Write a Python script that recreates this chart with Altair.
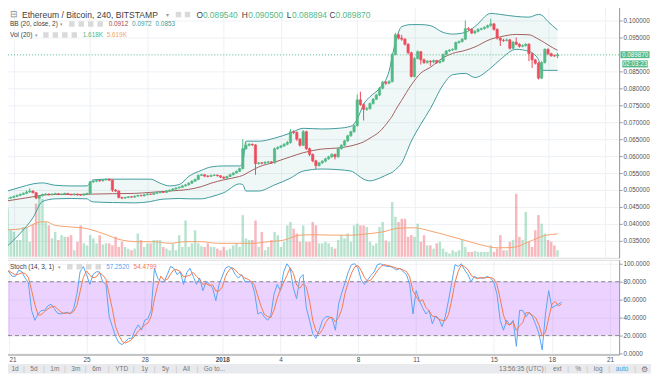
import altair as alt
import pandas as pd

# ---------------- data (ETH/BTC, 240 min candles, BITSTAMP) ----------------
FIRST_OPEN = 0.0474
CLOSE = [
    0.0476, 0.0478, 0.0481, 0.0484, 0.0487, 0.0490, 0.0494, 0.0497, 0.0492, 0.0476,
    0.0483, 0.0487, 0.0488, 0.0486, 0.0488, 0.0489, 0.0487, 0.0488, 0.0490, 0.0487,
    0.0486, 0.0488, 0.0486, 0.0485, 0.0488, 0.0490, 0.0524, 0.0526, 0.0528, 0.0527,
    0.0530, 0.0532, 0.0529, 0.0500, 0.0497, 0.0478, 0.0476, 0.0478, 0.0480, 0.0479,
    0.0482, 0.0484, 0.0483, 0.0486, 0.0488, 0.0487, 0.0490, 0.0492, 0.0494, 0.0493,
    0.0497, 0.0499, 0.0503, 0.0506, 0.0508, 0.0512, 0.0515, 0.0520, 0.0526, 0.0531,
    0.0543, 0.0545, 0.0541, 0.0540, 0.0543, 0.0544, 0.0542, 0.0538, 0.0535, 0.0540,
    0.0545, 0.0550, 0.0555, 0.0563, 0.0622, 0.0632, 0.0635, 0.0633, 0.0578, 0.0580,
    0.0579, 0.0582, 0.0583, 0.0580, 0.0622, 0.0626, 0.0630, 0.0635, 0.0640, 0.0672,
    0.0670, 0.0650, 0.0632, 0.0672, 0.0622, 0.0605, 0.0586, 0.0572, 0.0580, 0.0585,
    0.0592, 0.0598, 0.0605, 0.0598, 0.0622, 0.0632, 0.0645, 0.0660, 0.0672, 0.0690,
    0.0766, 0.0752, 0.0738, 0.0740, 0.0755, 0.0768, 0.0780, 0.0800, 0.0818, 0.0815,
    0.0820, 0.0900, 0.0958, 0.0948, 0.0945, 0.0930, 0.0905, 0.0835, 0.0888, 0.0908,
    0.0884, 0.0876, 0.0880, 0.0878, 0.0882, 0.0876, 0.0880, 0.0900, 0.0910, 0.0913,
    0.0915, 0.0935, 0.0938, 0.0945, 0.0976, 0.0974, 0.0963, 0.0968, 0.0974, 0.0976,
    0.0980, 0.0985, 0.0990, 0.0974, 0.0948, 0.0942, 0.0941, 0.0943, 0.0918, 0.0936,
    0.0930, 0.0924, 0.0926, 0.0930, 0.0902, 0.0884, 0.0874, 0.0830, 0.0876, 0.0915,
    0.0902, 0.0896, 0.08954, 0.08987,
]
HIGH = [
    0.0479, 0.0481, 0.0484, 0.0487, 0.0490, 0.0493, 0.0499, 0.0505, 0.0499, 0.0494,
    0.0485, 0.0489, 0.0491, 0.0490, 0.0490, 0.0492, 0.0491, 0.0490, 0.0492, 0.0491,
    0.0489, 0.0490, 0.0489, 0.0488, 0.0490, 0.0492, 0.0527, 0.0529, 0.0531, 0.0530,
    0.0533, 0.0535, 0.0534, 0.0531, 0.0503, 0.0499, 0.0480, 0.0480, 0.0482, 0.0482,
    0.0484, 0.0486, 0.0486, 0.0488, 0.0491, 0.0490, 0.0494, 0.0495, 0.0497, 0.0496,
    0.0500, 0.0502, 0.0506, 0.0509, 0.0511, 0.0515, 0.0518, 0.0523, 0.0529, 0.0534,
    0.0546, 0.0548, 0.0547, 0.0544, 0.0546, 0.0547, 0.0546, 0.0544, 0.0540, 0.0542,
    0.0548, 0.0553, 0.0558, 0.0566, 0.0650, 0.0640, 0.0638, 0.0637, 0.0635, 0.0583,
    0.0583, 0.0585, 0.0586, 0.0585, 0.0625, 0.0629, 0.0633, 0.0638, 0.0645, 0.0680,
    0.0676, 0.0673, 0.0653, 0.0677, 0.0675, 0.0625, 0.0608, 0.0589, 0.0583, 0.0588,
    0.0595, 0.0601, 0.0608, 0.0607, 0.0625, 0.0635, 0.0648, 0.0663, 0.0675, 0.0693,
    0.0782, 0.0790, 0.0756, 0.0745, 0.0758, 0.0771, 0.0784, 0.0804, 0.0822, 0.0822,
    0.0824, 0.0904, 0.0964, 0.0962, 0.0958, 0.0948, 0.0933, 0.0908, 0.0892, 0.0912,
    0.0910, 0.0888, 0.0884, 0.0883, 0.0885, 0.0884, 0.0883, 0.0903, 0.0913, 0.0916,
    0.0918, 0.0938, 0.0941, 0.0948, 0.1000, 0.0980, 0.0977, 0.0972, 0.0977, 0.0979,
    0.0983, 0.0988, 0.1005, 0.0993, 0.0977, 0.0951, 0.0946, 0.0947, 0.0946, 0.0940,
    0.0950, 0.0933, 0.0930, 0.0933, 0.0933, 0.0905, 0.0887, 0.0877, 0.0880, 0.0918,
    0.0918, 0.0905, 0.0900, 0.0905,
]
LOW = [
    0.0472, 0.0474, 0.0476, 0.0479, 0.0482, 0.0485, 0.0488, 0.0492, 0.0490, 0.0473,
    0.0474, 0.0481, 0.0485, 0.0484, 0.0484, 0.0486, 0.0485, 0.0485, 0.0486, 0.0485,
    0.0484, 0.0484, 0.0483, 0.0483, 0.0483, 0.0486, 0.0488, 0.0521, 0.0523, 0.0524,
    0.0525, 0.0528, 0.0527, 0.0494, 0.0494, 0.0475, 0.0473, 0.0474, 0.0476, 0.0477,
    0.0477, 0.0480, 0.0481, 0.0481, 0.0484, 0.0485, 0.0485, 0.0488, 0.0490, 0.0491,
    0.0491, 0.0495, 0.0497, 0.0501, 0.0504, 0.0506, 0.0510, 0.0513, 0.0518, 0.0524,
    0.0529, 0.0541, 0.0538, 0.0537, 0.0538, 0.0541, 0.0540, 0.0535, 0.0532, 0.0533,
    0.0538, 0.0543, 0.0548, 0.0553, 0.0561, 0.0618, 0.0629, 0.0630, 0.0545, 0.0575,
    0.0576, 0.0577, 0.0579, 0.0577, 0.0578, 0.0619, 0.0623, 0.0627, 0.0632, 0.0637,
    0.0665, 0.0645, 0.0628, 0.0630, 0.0618, 0.0600, 0.0582, 0.0562, 0.0569, 0.0577,
    0.0582, 0.0589, 0.0595, 0.0590, 0.0595, 0.0619, 0.0629, 0.0642, 0.0657, 0.0669,
    0.0687, 0.0748, 0.0705, 0.0733, 0.0737, 0.0752, 0.0765, 0.0777, 0.0797, 0.0810,
    0.0812, 0.0817, 0.0897, 0.0944, 0.0940, 0.0926, 0.0900, 0.0832, 0.0832, 0.0885,
    0.0870, 0.0872, 0.0873, 0.0866, 0.0874, 0.0872, 0.0873, 0.0877, 0.0897, 0.0907,
    0.0910, 0.0912, 0.0932, 0.0935, 0.0942, 0.0970, 0.0960, 0.0960, 0.0965, 0.0971,
    0.0973, 0.0977, 0.0982, 0.0970, 0.0944, 0.0925, 0.0937, 0.0938, 0.0914, 0.0915,
    0.0927, 0.0920, 0.0921, 0.0923, 0.0880, 0.0860, 0.0870, 0.0826, 0.0827, 0.0873,
    0.0898, 0.0893, 0.0893, 0.08889,
]
VOLUME_K = [
    11.8, 6.5, 6.1, 4.1, 4.1, 7.3, 7.3, 3.7, 8.1, 13.0,
    14.6, 14.2, 8.5, 7.7, 4.5, 6.1, 4.1, 5.3, 4.9, 4.9,
    5.3, 1.6, 3.7, 7.7, 3.3, 2.8, 5.3, 4.5, 3.3, 5.3,
    3.0, 3.3, 3.3, 2.8, 4.9, 2.4, 3.7, 2.4, 2.0, 1.6,
    2.0, 5.7, 4.1, 2.4, 3.3, 3.3, 4.1, 4.1, 4.1, 2.4,
    2.0, 1.6, 3.3, 1.6, 5.3, 2.4, 8.9, 2.4, 3.3, 6.5,
    3.3, 2.6, 2.4, 3.3, 2.4, 2.4, 2.0, 1.6, 2.4, 1.6,
    2.0, 2.8, 3.3, 2.4, 10.2, 4.5, 4.1, 4.1, 8.9, 2.4,
    6.1, 1.6, 2.4, 4.1, 6.1, 5.3, 2.4, 3.7, 7.7, 8.5,
    6.9, 5.7, 3.7, 7.7, 3.7, 3.7, 8.5, 7.7, 3.3, 3.3,
    3.7, 3.3, 2.4, 2.0, 4.1, 5.3, 4.5, 5.7, 3.7, 7.7,
    8.1, 7.7, 7.7, 7.3, 3.7, 2.8, 3.3, 7.3, 8.5, 4.0,
    3.7, 13.4, 9.8, 8.5, 9.3, 9.3, 4.9, 5.3, 4.9, 8.1,
    3.7, 5.3, 2.8, 2.8, 2.0, 3.3, 3.7, 2.0, 1.2, 0.8,
    1.6, 1.2, 1.6, 4.1, 2.4, 1.2, 1.2, 1.4, 1.2, 1.2,
    1.2, 1.2, 2.8, 1.2, 2.0, 5.3, 1.6, 1.6, 3.7, 4.1,
    15.4, 4.9, 4.1, 11.0, 3.7, 2.4, 6.5, 10.2, 8.1, 5.7,
    4.1, 3.7, 2.8, 1.618,
]
STOCH_K = [
    93, 92, 91, 86, 86, 93, 91, 84, 79, 48,
    37, 44, 48, 48, 53, 55, 50, 45, 44, 45,
    46, 44, 50, 66, 91, 97, 88, 77, 88, 91,
    91, 80, 77, 41, 30, 19, 12, 10, 13, 17,
    17, 26, 32, 26, 37, 39, 48, 95, 84, 80,
    80, 88, 97, 95, 88, 91, 77, 90, 95, 86,
    77, 84, 70, 80, 77, 73, 59, 77, 86, 95,
    97, 95, 88, 84, 88, 80, 80, 80, 68, 44,
    46, 41, 37, 42, 66, 77, 70, 91, 100, 95,
    73, 61, 84, 88, 51, 37, 22, 17, 26, 37,
    41, 41, 39, 26, 55, 68, 79, 91, 99, 100,
    95, 82, 77, 82, 87, 91, 99, 100, 98, 97,
    97, 95, 93, 95, 91, 88, 77, 44, 70, 59,
    51, 44, 48, 33, 42, 39, 30, 41, 59, 79,
    99, 97, 100, 93, 88, 80, 86, 84, 84, 84,
    86, 84, 80, 66, 37, 26, 37, 32, 37, 8,
    48, 48, 41, 46, 41, 32, 22, 4, 44, 70,
    51, 53, 55, 57.252,
]
# Bollinger Bands (20, close, 2), read at these candle numbers
BB_IDX = [0, 4, 8, 11, 15, 20, 25, 26, 27, 33, 40, 45, 48, 51, 54, 57, 61, 64, 68, 73,
          74, 75, 79, 84, 89, 93, 99, 104, 108, 110, 112, 114, 117, 120, 121, 122, 124, 127, 130, 133,
          137, 140, 144, 147, 152, 155, 160, 164, 167, 168, 170, 173]
BB_UPPER = [0.0497, 0.0508, 0.0518, 0.0521, 0.0514, 0.0512, 0.0512, 0.0522, 0.0530, 0.0532,
            0.0532, 0.0532, 0.0520, 0.0512, 0.0516, 0.0540, 0.0558, 0.0568, 0.0571, 0.0571,
            0.0580, 0.0644, 0.0644, 0.0653, 0.0668, 0.0682, 0.0680, 0.0682, 0.0688, 0.0709,
            0.0753, 0.0775, 0.0800, 0.0850, 0.0895, 0.0935, 0.0982, 0.0988, 0.0988, 0.0985,
            0.0965, 0.0960, 0.0965, 0.0982, 0.1021, 0.1018, 0.1012, 0.1010, 0.1018, 0.1016,
            0.0997, 0.0972]
BB_BASIS = [0.0468, 0.0474, 0.0480, 0.0485, 0.0487, 0.0487, 0.0487, 0.0488, 0.0488, 0.0489,
            0.0490, 0.0493, 0.0495, 0.0497, 0.0499, 0.0502, 0.0510, 0.0520, 0.0530, 0.0540,
            0.0543, 0.0548, 0.0568, 0.0582, 0.0598, 0.0610, 0.0621, 0.0624, 0.0630, 0.0635,
            0.0642, 0.0653, 0.0672, 0.0705, 0.0718, 0.0735, 0.0765, 0.0810, 0.0845, 0.0862,
            0.0890, 0.0903, 0.0912, 0.0922, 0.0945, 0.0952, 0.0959, 0.0958, 0.0945, 0.0940,
            0.0928, 0.0912]
BB_LOWER = [0.0335, 0.0372, 0.0418, 0.0466, 0.0474, 0.0475, 0.0474, 0.0468, 0.0465, 0.0463,
            0.0462, 0.0466, 0.0472, 0.0474, 0.0475, 0.0474, 0.0474, 0.0480, 0.0492, 0.0518,
            0.0516, 0.0497, 0.0497, 0.0515, 0.0535, 0.0556, 0.0562, 0.0560, 0.0556, 0.0545,
            0.0532, 0.0527, 0.0535, 0.0548, 0.0552, 0.0560, 0.0580, 0.0644, 0.0694, 0.0740,
            0.0810, 0.0840, 0.0844, 0.0832, 0.0860, 0.0885, 0.0915, 0.0909, 0.0885, 0.0853,
            0.0853, 0.0853]
# Volume moving average (20), in thousands
VMA_IDX = [0, 5, 10, 12, 15, 20, 25, 30, 36, 41, 46, 51, 56, 61, 66, 72, 77, 82, 87, 92,
           97, 102, 108, 113, 118, 123, 128, 133, 138, 144, 149, 154, 159, 164, 169, 173]
VMA_K = [6.6, 6.9, 8.5, 8.6, 7.7, 7.3, 6.9, 5.7, 4.1, 3.7, 3.7, 3.3, 3.7, 3.7, 3.3, 3.3, 3.3, 3.7, 4.1, 5.3,
         5.4, 5.3, 5.3, 5.6, 6.1, 7.0, 7.1, 6.3, 5.3, 4.0, 2.9, 2.2, 2.3, 3.7, 5.2, 5.619]
LAST_PRICE = 0.08987
# 0.090000 sits under the last-price tag, as in the original
PRICE_TICKS = [0.035, 0.040, 0.045, 0.050, 0.055, 0.060, 0.065, 0.070, 0.075, 0.080, 0.085,
               0.095, 0.100]
STOCH_TICKS = [0, 20, 40, 60, 80, 100]
DATE_TICKS = ["2017-12-21", "2017-12-25", "2017-12-28", "2018-01-01", "2018-01-04",
              "2018-01-08", "2018-01-11", "2018-01-15", "2018-01-18", "2018-01-21"]

# ---------------- layout / style ----------------
W, H1, H2 = 620, 257, 95
PX_PER_DAY = 19.45
PRICE_DOMAIN = [0.0300, 0.105588]
VOL_DOMAIN = [-0.24, 62.44]
STOCH_DOMAIN = [-1.05, 104.4]
FONT = "Liberation Sans"
UP, DOWN = "#53b987", "#eb4d5c"
GRID = "#eef1f5"
AXIS_LINE = "#9c9c9c"
AXIS_TXT = "#4f4f4f"
TXT = "#3e3e3e"
BB_LINE, BB_MID = "#419c9e", "#a36060"
VOL_MA = "#f5a36e"
K_COL, D_COL = "#5aa5f3", "#f47a4c"
DX = 7  # legend rows start inside the visible page area

N = len(CLOSE)
assert len(HIGH) == N and len(LOW) == N and len(VOLUME_K) == N and len(STOCH_K) == N
assert len(BB_IDX) == len(BB_UPPER) == len(BB_BASIS) == len(BB_LOWER)
assert len(VMA_IDX) == len(VMA_K)

T_FIRST = pd.Timestamp("2017-12-20 16:00", tz="UTC")


def to_ms(ts):
    return int(ts.value // 10**6)


def candle_ms(i):
    return to_ms(T_FIRST + pd.Timedelta(hours=4 * i))


X_START = pd.Timestamp("2017-12-20 14:08", tz="UTC")
X_END = X_START + pd.Timedelta(days=W / PX_PER_DAY)
X_DOMAIN = [to_ms(X_START), to_ms(X_END)]
TICK_MS = [to_ms(pd.Timestamp(d, tz="UTC")) for d in DATE_TICKS]

opens = [FIRST_OPEN] + CLOSE[:-1]
candles = pd.DataFrame({
    "t": [candle_ms(i) for i in range(N)],
    "open": opens, "close": CLOSE, "high": HIGH, "low": LOW, "vol": VOLUME_K,
    "dir": ["up" if c >= o else "down" for o, c in zip(opens, CLOSE)],
})
bb = pd.DataFrame({"t": [candle_ms(i) for i in BB_IDX], "upper": BB_UPPER,
                   "basis": BB_BASIS, "lower": BB_LOWER})
vma = pd.DataFrame({"t": [candle_ms(i) for i in VMA_IDX], "v": VMA_K})
stoch = pd.DataFrame({"t": [candle_ms(i) for i in range(N)], "k": STOCH_K})
ONE = pd.DataFrame({"k": [0]})

xs = alt.Scale(type="utc", domain=X_DOMAIN)
x_main = alt.X("t:T", scale=xs, title=None,
               axis=alt.Axis(values=TICK_MS, labels=False, ticks=False, domain=False,
                             grid=True, gridColor=GRID, title=None))
YEAR_TEST = "utcdate(datum.value) == 1 && utcmonth(datum.value) == 0"
x_bottom = alt.X("t:T", scale=xs, title=None,
                 axis=alt.Axis(values=TICK_MS, grid=True, gridColor=GRID, ticks=False,
                               domain=True, domainColor=AXIS_LINE, title=None,
                               labelExpr=YEAR_TEST + " ? utcFormat(datum.value, '%Y') : utcFormat(datum.value, '%-d')",
                               labelFontWeight={"condition": {"test": YEAR_TEST, "value": "bold"}, "value": "normal"},
                               labelFontSize=6.4, labelColor=AXIS_TXT, labelPadding=2,
                               labelFlush=8.5, labelOverlap=False, labelFont=FONT))
dir_color = alt.Color("dir:N", scale=alt.Scale(domain=["up", "down"], range=[UP, DOWN]), legend=None)
dir_stroke = alt.Stroke("dir:N", scale=alt.Scale(domain=["up", "down"], range=[UP, DOWN]), legend=None)

py = alt.Scale(domain=PRICE_DOMAIN)
price_axis = alt.Axis(orient="right", values=PRICE_TICKS, format=".6f", title=None, grid=True,
                      gridColor=GRID, labelFontSize=6.3, labelColor=AXIS_TXT, tickSize=3,
                      tickColor=AXIS_LINE, domainColor=AXIS_LINE, labelPadding=1,
                      labelFlush=False, labelOverlap=False, labelFont=FONT, zindex=0)


def py_field(f):
    return alt.Y(f, scale=py, axis=price_axis, title=None)


def text(txt, x, y, color, size, weight="normal", align="left"):
    return alt.Chart(ONE).mark_text(align=align, baseline="middle", fontSize=size, color=color,
                                    fontWeight=weight, font=FONT).encode(
        x=alt.value(x), y=alt.value(y), text=alt.value(txt))


def icon(x, y):
    return alt.Chart(ONE).mark_square(size=30, color="#dadada", opacity=1, filled=True).encode(
        x=alt.value(x), y=alt.value(y))


# ---------------- main pane ----------------
vs = alt.Scale(domain=VOL_DOMAIN)
vol_bars = alt.Chart(candles).mark_bar(size=2.5, opacity=0.4).encode(
    x=x_main, y=alt.Y("vol:Q", scale=vs, axis=None), color=dir_color)
vol_ma = alt.Chart(vma).mark_line(color=VOL_MA, strokeWidth=1, interpolate="monotone").encode(
    x=x_main, y=alt.Y("v:Q", scale=vs, axis=None))
vol_layer = alt.layer(vol_bars, vol_ma)

band_fill = alt.Chart(bb).mark_area(color="#00897b", opacity=0.06, interpolate="monotone").encode(
    x=x_main, y=py_field("upper:Q"), y2="lower:Q")
band_up = alt.Chart(bb).mark_line(color=BB_LINE, strokeWidth=1, interpolate="monotone").encode(
    x=x_main, y=py_field("upper:Q"))
band_lo = alt.Chart(bb).mark_line(color=BB_LINE, strokeWidth=1, interpolate="monotone").encode(
    x=x_main, y=py_field("lower:Q"))
band_mid = alt.Chart(bb).mark_line(color=BB_MID, strokeWidth=1, interpolate="monotone").encode(
    x=x_main, y=py_field("basis:Q"))
last_y = alt.YDatum(LAST_PRICE, scale=py, axis=price_axis, type="quantitative")
price_line = alt.Chart(ONE).mark_rule(color=UP, strokeDash=[1, 2], strokeWidth=1).encode(y=last_y)
wicks = alt.Chart(candles).mark_rule(strokeWidth=1).encode(
    x=x_main, y=py_field("low:Q"), y2="high:Q", color=dir_color)
bodies = alt.Chart(candles).mark_bar(size=2.3, strokeWidth=0.6).encode(
    x=x_main, y=py_field("open:Q"), y2="close:Q", color=dir_color, stroke=dir_stroke)
TAG_X = W + 16
box1 = alt.Chart(ONE).mark_point(shape="M-0.97,-0.24L0.97,-0.24L0.97,0.22L-0.97,0.22Z", size=900,
                                 filled=True, opacity=1, color=UP).encode(x=alt.value(TAG_X), y=last_y)
box2 = alt.Chart(ONE).mark_point(shape="M-0.85,0.37L0.85,0.37L0.85,0.84L-0.85,0.84Z", size=900,
                                 filled=True, opacity=1, color=UP).encode(x=alt.value(TAG_X), y=last_y)
box1_txt = alt.Chart(ONE).mark_text(color="white", fontSize=6.3, font=FONT, baseline="middle").encode(
    x=alt.value(TAG_X), y=last_y, text=alt.value("0.089870"))
box2_txt = alt.Chart(ONE).mark_text(color="white", fontSize=6.3, font=FONT, baseline="middle", dy=9.3).encode(
    x=alt.value(TAG_X), y=last_y, text=alt.value("02:03:23"))

price_layer = alt.layer(band_fill, band_up, band_lo, band_mid, price_line, wicks, bodies,
                        box1, box2, box1_txt, box2_txt)

R1 = 13
legend_main = [
    text("\u229f", 2 + DX, R1 - 0.5, "#8a8a8a", 9),
    text("Ethereum / Bitcoin, 240, BITSTAMP", 14 + DX, R1, TXT, 8.6),
    text("\u25be", 158 + DX, R1, "#9a9a9a", 6),
    icon(171 + DX, R1), icon(180 + DX, R1),
    text("O", 189 + DX, R1, TXT, 8.4), text("0.089540", 195.5 + DX, R1, UP, 8.4),
    text("H", 234.5 + DX, R1, TXT, 8.4), text("0.090500", 241 + DX, R1, UP, 8.4),
    text("L", 279.5 + DX, R1, TXT, 8.4), text("0.088894", 285 + DX, R1, UP, 8.4),
    text("C", 322.5 + DX, R1, TXT, 8.4), text("0.089870", 328.5 + DX, R1, UP, 8.4),
    text("BB (20, close, 2)", 2 + DX, 22.5, TXT, 6.5),
    text("\u25be", 52 + DX, 22.5, "#9a9a9a", 5.5),
    icon(64 + DX, 22.5), icon(73.5 + DX, 22.5), icon(83 + DX, 22.5), icon(92.5 + DX, 22.5),
    text("0.0912", 101 + DX, 22.5, "#a8474a", 6.4),
    text("0.0972", 124.5 + DX, 22.5, BB_LINE, 6.4),
    text("0.0853", 148 + DX, 22.5, BB_LINE, 6.4),
    text("Vol (20)", 2 + DX, 33.5, TXT, 6.5),
    text("\u25be", 27 + DX, 33.5, "#9a9a9a", 5.5),
    icon(38 + DX, 33.5), icon(47.5 + DX, 33.5), icon(57 + DX, 33.5), icon(66.5 + DX, 33.5),
    text("1.618K", 75 + DX, 33.5, UP, 6.4),
    text("5.619K", 99 + DX, 33.5, VOL_MA, 6.4),
]

panel1 = alt.layer(vol_layer, price_layer, *legend_main).resolve_scale(y="independent").properties(
    width=W, height=H1)

# ---------------- stochastic pane ----------------
sy = alt.Scale(domain=STOCH_DOMAIN)
stoch_axis = alt.Axis(orient="right", values=STOCH_TICKS, format=".4f", title=None, grid=True,
                      gridColor=GRID, labelFontSize=6.3, labelColor=AXIS_TXT, tickSize=3,
                      tickColor=AXIS_LINE, domainColor=AXIS_LINE, labelPadding=1,
                      labelFlush=False, labelOverlap=False, labelFont=FONT, zindex=0)
band = alt.Chart(ONE).mark_rect(color="#9915ff", opacity=0.19).encode(
    x=alt.value(0), x2=alt.value(W),
    y=alt.YDatum(80, scale=sy, axis=stoch_axis, type="quantitative"), y2=alt.datum(20))
r80 = alt.Chart(ONE).mark_rule(color="#8a8a8a", strokeDash=[4, 3], strokeWidth=1).encode(
    y=alt.YDatum(80, scale=sy, axis=stoch_axis, type="quantitative"))
r20 = alt.Chart(ONE).mark_rule(color="#8a8a8a", strokeDash=[4, 3], strokeWidth=1).encode(
    y=alt.YDatum(20, scale=sy, axis=stoch_axis, type="quantitative"))
k_line = alt.Chart(stoch).mark_line(color=K_COL, strokeWidth=1).encode(
    x=x_bottom, y=alt.Y("k:Q", scale=sy, axis=stoch_axis, title=None))
d_line = alt.Chart(stoch).transform_window(
    d="mean(k)", frame=[-2, 0], sort=[alt.SortField("t")]).mark_line(
    color=D_COL, strokeWidth=1).encode(
    x=x_bottom, y=alt.Y("d:Q", scale=sy, axis=stoch_axis, title=None))

legend_stoch = [
    text("Stoch (14, 3, 1)", 2 + DX, 7, TXT, 6.5),
    text("\u25be", 50 + DX, 7, "#9a9a9a", 5.5),
    icon(62 + DX, 7), icon(71.5 + DX, 7), icon(81 + DX, 7), icon(90.5 + DX, 7),
    text("57.2520", 98.5 + DX, 7, K_COL, 6.4),
    text("54.4799", 126 + DX, 7, D_COL, 6.4),
]

TB_TOP, TB_BOTTOM = 104.5, 114
TB_Y = 109.6
toolbar_bg = alt.Chart(ONE).mark_rect(color="#e9eaed").encode(
    x=alt.value(0), x2=alt.value(652), y=alt.value(TB_TOP), y2=alt.value(TB_BOTTOM))
TB_LEFT = ["1d", "5d", "1m", "3m", "6m", "YTD", "1y", "5y", "All", "Go to..."]
TB_LEFT_X = [14, 33, 54, 75, 96, 121, 144, 165, 186, 214]
TB_SEP_X = [23, 43, 64, 85, 108, 133, 154, 176, 197, 546, 569, 588, 610, 636]
TB_RIGHT = ["13:56:35 (UTC)", "ext", "%", "log", "auto", "\u2699"]
TB_RIGHT_X = [522, 558, 579, 599, 623, 645]
TB_RIGHT_C = ["#777777", "#777777", "#777777", "#777777", "#3aa0e8", "#777777"]
toolbar = [toolbar_bg]
toolbar += [text(s, x, TB_Y, "#777777", 6.5, align="center") for s, x in zip(TB_LEFT, TB_LEFT_X)]
toolbar += [text("|", x, TB_Y, "#c4c4c4", 7, align="center") for x in TB_SEP_X]
toolbar += [text(s, x, TB_Y, c, 6.5 if s != "\u2699" else 8.5, align="center")
            for s, x, c in zip(TB_RIGHT, TB_RIGHT_X, TB_RIGHT_C)]

panel2 = alt.layer(band, r80, r20, k_line, d_line, *legend_stoch, *toolbar).properties(
    width=W, height=H2)

chart = alt.vconcat(panel1, panel2, spacing=0).properties(
    padding={"left": -8, "top": -8, "right": 0, "bottom": 0},
    background="white",
).configure_view(stroke=None).configure(font=FONT)

chart.save("out.html", embed_options={"renderer": "svg", "actions": False})
